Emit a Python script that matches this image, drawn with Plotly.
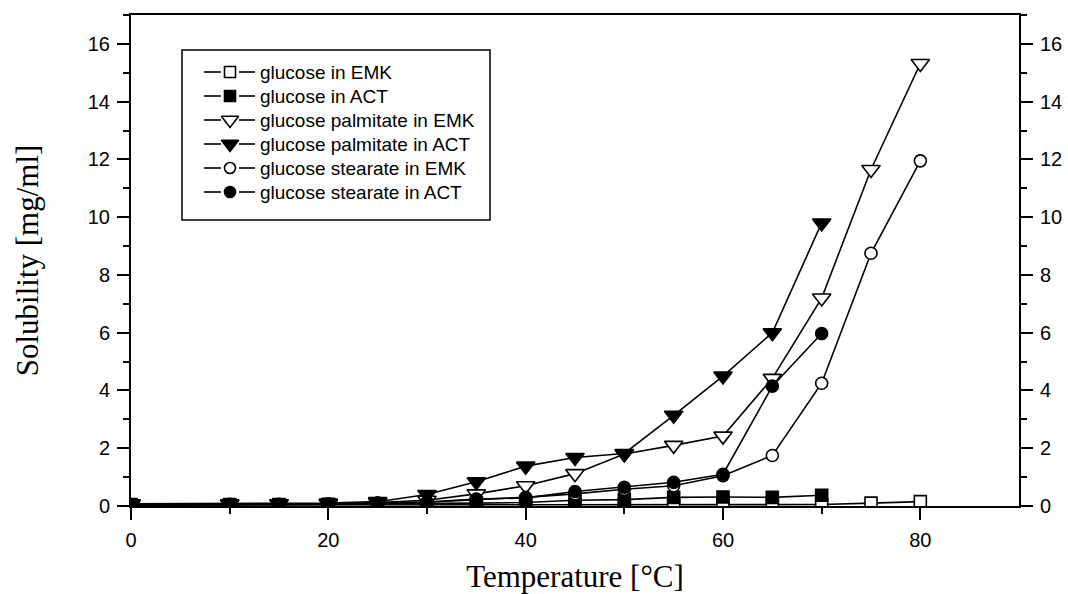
import plotly.graph_objects as go

# Temperatures [°C]
x_emk = [0, 10, 15, 20, 25, 30, 35, 40, 45, 50, 55, 60, 65, 70, 75, 80]
x_act = [0, 10, 15, 20, 25, 30, 35, 40, 45, 50, 55, 60, 65, 70]

# Solubility [mg/ml]
glucose_emk = [0.03, 0.03, 0.03, 0.04, 0.05, 0.05, 0.05, 0.05, 0.05, 0.05, 0.05, 0.05, 0.05, 0.05, 0.10, 0.15]
glucose_act = [0.05, 0.05, 0.05, 0.06, 0.08, 0.08, 0.10, 0.12, 0.20, 0.22, 0.30, 0.31, 0.30, 0.37]
palm_emk = [0.05, 0.07, 0.07, 0.08, 0.12, 0.20, 0.42, 0.70, 1.12, 1.80, 2.10, 2.42, 4.42, 7.20, 11.65, 15.32]
palm_act = [0.08, 0.08, 0.08, 0.10, 0.15, 0.40, 0.84, 1.38, 1.68, 1.82, 3.14, 4.50, 6.00, 9.80]
stear_emk = [0.04, 0.05, 0.05, 0.06, 0.10, 0.13, 0.22, 0.30, 0.42, 0.58, 0.70, 1.05, 1.75, 4.25, 8.75, 11.95]
stear_act = [0.05, 0.06, 0.06, 0.08, 0.10, 0.14, 0.24, 0.28, 0.50, 0.65, 0.82, 1.10, 4.15, 5.97]

labels = ["glucose in EMK", "glucose in ACT", "glucose palmitate in EMK",
          "glucose palmitate in ACT", "glucose stearate in EMK", "glucose stearate in ACT"]
xs_list = [x_emk, x_act, x_emk, x_act, x_emk, x_act]
ys_list = [glucose_emk, glucose_act, palm_emk, palm_act, stear_emk, stear_act]
symbols = ["square", "square", "triangle-down", "triangle-down", "circle", "circle"]
fills = ["white", "black", "white", "black", "white", "black"]
sizes = [12, 12, 16, 16, 12, 12]
legend_sizes = [11, 11, 15, 15, 11, 11]

# legend layout (pixel coordinates of the plot area overlay)
LEG_BOX = (182, 490, 50, 220)
LEG_Y0, LEG_DY = 72, 24
LEG_LINE = (204, 221, 239, 255)
LEG_MARK_X, LEG_TEXT_X = 230, 258

PL, PR, PT, PB = 131, 1019, 15, 506

fig = go.Figure()
for name, xs, ys, sym, fill, size in zip(labels, xs_list, ys_list, symbols, fills, sizes):
    fig.add_trace(go.Scatter(
        x=xs, y=ys, name=name, mode="lines+markers", showlegend=False,
        line=dict(color="black", width=1.6),
        marker=dict(symbol=sym, size=size, color=fill,
                    line=dict(color="black", width=1.6)),
    ))

# invisible trace to activate right-hand axis
fig.add_trace(go.Scatter(x=[0], y=[0], yaxis="y2", mode="markers",
                         marker=dict(opacity=0), showlegend=False, hoverinfo="skip"))

# custom legend drawn on a pixel-coordinate overlay
annotations = []
for i, (name, sym, fill, lsz) in enumerate(zip(labels, symbols, fills, legend_sizes)):
    yy = LEG_Y0 + i * LEG_DY
    a, b, c, d = LEG_LINE
    fig.add_trace(go.Scatter(x=[a, b, None, c, d], y=[yy, yy, None, yy, yy],
                             xaxis="x2", yaxis="y3", mode="lines",
                             line=dict(color="black", width=1.6),
                             showlegend=False, hoverinfo="skip"))
    fig.add_trace(go.Scatter(x=[LEG_MARK_X], y=[yy], xaxis="x2", yaxis="y3", mode="markers",
                             marker=dict(symbol=sym, size=lsz, color=fill,
                                         line=dict(color="black", width=1.6)),
                             showlegend=False, hoverinfo="skip"))
    annotations.append(dict(x=LEG_TEXT_X, y=yy, xref="x2", yref="y3", text=name,
                            showarrow=False, xanchor="left", yanchor="middle",
                            font=dict(family="Liberation Sans, Arial", size=19, color="black")))

tickfont = dict(family="Liberation Sans, Arial", size=20, color="black")
titlefont = dict(family="Liberation Serif, Times New Roman", size=31, color="black")

fig.update_layout(
    width=1068, height=594,
    margin=dict(l=PL, r=1068 - PR, t=PT, b=594 - PB),
    paper_bgcolor="white", plot_bgcolor="white",
    showlegend=False,
    xaxis=dict(range=[0, 90], tickvals=[0, 20, 40, 60, 80], automargin=False,
               showline=True, linecolor="black", linewidth=2, mirror=True,
               ticks="outside", ticklen=12, tickwidth=2, tickcolor="black",
               minor=dict(tickvals=[10, 30, 50, 70], ticks="outside", ticklen=6,
                          tickwidth=2, tickcolor="black"),
               showgrid=False, zeroline=False, tickfont=tickfont, ticklabelstandoff=3,
               title=dict(text="Temperature [°C]", font=titlefont, standoff=16)),
    yaxis=dict(range=[0, 17], tickvals=[0, 2, 4, 6, 8, 10, 12, 14, 16], automargin=False,
               showline=True, linecolor="black", linewidth=2,
               ticks="outside", ticklen=12, tickwidth=2, tickcolor="black",
               minor=dict(dtick=1, ticks="outside", ticklen=6, tickwidth=2, tickcolor="black"),
               showgrid=False, zeroline=False, tickfont=tickfont, ticklabelstandoff=3,
               title=dict(text="Solubility [mg/ml]", font=titlefont, standoff=40)),
    yaxis2=dict(range=[0, 17], tickvals=[0, 2, 4, 6, 8, 10, 12, 14, 16], automargin=False,
                overlaying="y", side="right",
                showline=True, linecolor="black", linewidth=2,
                ticks="outside", ticklen=12, tickwidth=2, tickcolor="black",
                minor=dict(dtick=1, ticks="outside", ticklen=6, tickwidth=2, tickcolor="black"),
                showgrid=False, zeroline=False, tickfont=tickfont, ticklabelstandoff=3),
    xaxis2=dict(range=[PL, PR], overlaying="x", visible=False, fixedrange=True),
    yaxis3=dict(range=[PB, PT], overlaying="y", anchor="x2", visible=False, fixedrange=True),
    shapes=[dict(type="rect", xref="x2", yref="y3",
                 x0=LEG_BOX[0], x1=LEG_BOX[1], y0=LEG_BOX[2], y1=LEG_BOX[3],
                 line=dict(color="black", width=1.5), fillcolor="rgba(0,0,0,0)")],
    annotations=annotations,
)

fig.write_html("out.html")
